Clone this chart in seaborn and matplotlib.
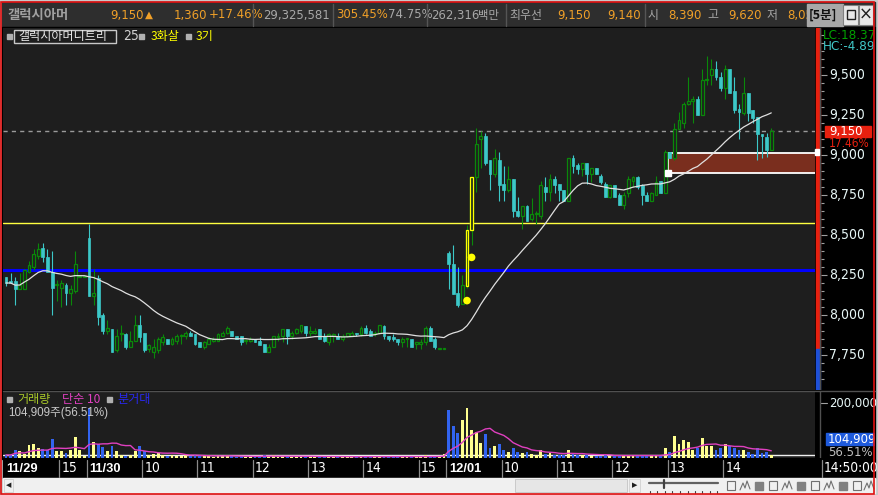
import numpy as np
import pandas as pd
import matplotlib
matplotlib.use("Agg")
import matplotlib.pyplot as plt
from matplotlib.patches import Rectangle
from matplotlib.transforms import Bbox
from matplotlib import font_manager
from matplotlib.font_manager import FontProperties
import seaborn as sns

sns.set_theme(style="dark")
KR = 'Noto Sans CJK KR'
plt.rcParams['font.family'] = ['Liberation Sans', KR, 'DejaVu Sans']
plt.rcParams['axes.unicode_minus'] = False

_narrow = None
for _f in font_manager.fontManager.ttflist:
    nm = _f.name
    if (('Narrow' in nm or 'Condensed' in nm or _f.stretch in ('condensed', 'semi-condensed'))
            and _f.style == 'normal' and _f.weight in (400, 'normal', 'regular')
            and ('Liberation' in nm or 'DejaVu' in nm)):
        if 'Mono' in nm or 'Serif' in nm:
            continue
        _narrow = _f.fname
        break


def NF(size):
    """font kwargs for narrow numeric/latin text"""
    if _narrow:
        return {'fontproperties': FontProperties(fname=_narrow, size=size)}
    return {'family': ['Liberation Sans'], 'fontsize': size * 0.84}


# ---------------- data (5-minute candles, 11/29 14:00 .. 12/01 14:50) ----------------
opens = [8240, 8210, 8210, 8160, 8160, 8270, 8300, 8370, 8420, 8360, 8270, 8190, 8170, 8190, 8140, 8150, 8240, 8240,
         8480, 8120, 8230, 8000, 7900, 7910, 7780, 7880, 7880, 7800, 7840, 7940, 7890, 7790, 7770, 7780, 7830, 7850,
         7820, 7840, 7870, 7870, 7890, 7880, 7830, 7800, 7820, 7840, 7840, 7870, 7890, 7900, 7870, 7870, 7840, 7840,
         7850, 7840, 7820, 7770, 7800, 7860, 7870, 7910, 7870, 7890, 7900, 7930, 7890, 7890, 7910, 7870, 7830, 7870,
         7870, 7850, 7870, 7870, 7890, 7880, 7920, 7900, 7880, 7890, 7930, 7870, 7860, 7850, 7830, 7850, 7850, 7820,
         7820, 7830, 7920, 7850, 7790, 7790,
         8390, 8320, 8140, 8070, 8180, 8530, 8860, 9100, 9120, 8970, 8880, 8970, 8820, 8780, 8850, 8650, 8620, 8680,
         8600, 8630, 8620, 8800, 8770, 8850, 8820, 8780, 8710, 8980, 8940, 8910, 8950, 8880, 8920, 8870, 8820, 8740,
         8810, 8750, 8690, 8760, 8840, 8860, 8810, 8750, 8710, 8750, 8840, 8760, 9020, 8980, 9160, 9200, 9320, 9340,
         9350, 9250, 9470, 9500, 9540, 9490, 9420, 9540, 9400, 9290, 9260, 9390, 9280, 9240, 9130, 9110, 9030]
highs = [8240, 8260, 8240, 8260, 8290, 8340, 8410, 8450, 8450, 8410, 8400, 8220, 8220, 8200, 8190, 8400, 8240, 8240,
         8570, 8290, 8250, 8010, 7970, 7910, 7910, 7940, 7890, 7900, 8000, 8000, 7890, 7820, 7850, 7860, 7880, 7850,
         7860, 7880, 7880, 7900, 7900, 7880, 7830, 7840, 7860, 7860, 7890, 7900, 7930, 7900, 7870, 7870, 7850, 7860,
         7850, 7860, 7820, 7820, 7870, 7890, 7910, 7910, 7900, 7920, 7940, 7930, 7930, 7920, 7910, 7890, 7890, 7890,
         7890, 7880, 7890, 7900, 7890, 7930, 7940, 7910, 7900, 7940, 7940, 7870, 7880, 7850, 7860, 7850, 7850, 7830,
         7850, 7930, 7930, 7860, 7790, 7790,
         8400, 8440, 8300, 8250, 8560, 8860, 9170, 9150, 9140, 8970, 9040, 9020, 8930, 8930, 8850, 8740, 8680, 8690,
         8730, 8650, 8840, 8860, 8880, 8870, 8820, 8780, 8980, 9000, 8950, 8950, 8950, 8920, 8920, 8880, 8830, 8810,
         8810, 8760, 8770, 8870, 8870, 8870, 8820, 8770, 8770, 8870, 8840, 9030, 9020, 9200, 9270, 9330, 9490, 9370,
         9370, 9540, 9620, 9600, 9590, 9520, 9560, 9540, 9490, 9320, 9490, 9390, 9280, 9240, 9130, 9140, 9170]
lows = [8180, 8200, 8060, 8160, 8160, 8260, 8280, 8350, 8330, 8270, 8000, 8090, 8050, 8060, 8060, 8140, 8240, 8240,
        8120, 8060, 7940, 7880, 7880, 7770, 7770, 7840, 7790, 7800, 7840, 7830, 7770, 7770, 7730, 7760, 7810, 7820,
        7810, 7820, 7820, 7850, 7870, 7810, 7800, 7790, 7820, 7830, 7840, 7870, 7880, 7870, 7850, 7810, 7820, 7830,
        7830, 7810, 7770, 7770, 7800, 7840, 7830, 7820, 7850, 7880, 7890, 7870, 7870, 7880, 7850, 7830, 7810, 7830,
        7850, 7840, 7860, 7870, 7870, 7870, 7880, 7870, 7870, 7880, 7850, 7840, 7840, 7810, 7800, 7800, 7800, 7790,
        7790, 7810, 7840, 7790, 7790, 7790,
        8160, 8130, 8050, 8070, 8170, 8440, 8770, 8920, 8940, 8780, 8860, 8710, 8710, 8770, 8610, 8610, 8540, 8590,
        8590, 8570, 8600, 8710, 8710, 8760, 8710, 8710, 8710, 8890, 8880, 8870, 8820, 8830, 8880, 8820, 8740, 8730,
        8740, 8690, 8660, 8740, 8800, 8790, 8690, 8710, 8710, 8750, 8760, 8760, 8980, 8970, 9160, 9170, 9310, 9200,
        9250, 9250, 9440, 9440, 9470, 9400, 9350, 9390, 9260, 9100, 9250, 9210, 9200, 8970, 8980, 8990, 9030]
closes = [8200, 8200, 8160, 8190, 8280, 8310, 8380, 8410, 8360, 8270, 8170, 8190, 8200, 8140, 8160, 8320, 8240, 8240,
          8120, 8140, 7990, 7900, 7920, 7770, 7870, 7890, 7800, 7840, 7940, 7860, 7780, 7810, 7800, 7850, 7860, 7820,
          7850, 7870, 7870, 7890, 7870, 7820, 7800, 7830, 7850, 7850, 7880, 7890, 7920, 7870, 7850, 7830, 7840, 7850,
          7830, 7810, 7770, 7800, 7870, 7870, 7910, 7870, 7890, 7910, 7940, 7890, 7900, 7900, 7850, 7840, 7880, 7880,
          7850, 7870, 7890, 7890, 7880, 7920, 7890, 7870, 7890, 7940, 7870, 7850, 7850, 7830, 7850, 7850, 7800, 7830,
          7830, 7920, 7840, 7800, 7790, 7790,
          8320, 8130, 8060, 8190, 8530, 8860, 9070, 9120, 8950, 8880, 8980, 8810, 8780, 8850, 8650, 8620, 8680, 8590,
          8630, 8630, 8810, 8770, 8850, 8810, 8780, 8710, 8980, 8930, 8910, 8950, 8880, 8920, 8880, 8830, 8740, 8810,
          8740, 8690, 8750, 8850, 8860, 8800, 8750, 8710, 8760, 8830, 8760, 9020, 8980, 9160, 9220, 9320, 9340, 9350,
          9250, 9470, 9470, 9540, 9490, 9420, 9540, 9390, 9280, 9270, 9390, 9260, 9230, 9130, 9120, 9030, 9150]
volume_k = [11, 11, 29, 25, 15, 47, 51, 36, 33, 29, 69, 25, 25, 18, 29, 76, 29, 7,
            182, 58, 51, 40, 25, 44, 25, 11, 7, 11, 25, 44, 25, 11,
            15, 18, 11, 7, 11, 7, 7, 11, 7, 11, 7, 7, 7, 4, 7, 7, 11, 7, 4, 7, 4, 4, 4, 7, 11, 7, 11, 4, 7, 7,
            4, 4, 7, 7, 4, 4, 7, 4, 7, 4, 4, 4, 4, 4, 4, 7, 7, 4, 4, 7, 7, 4, 4, 4, 4, 4, 7, 4, 4, 11, 7, 7, 4, 15,
            175, 116, 91, 138, 182, 102, 95, 55, 87, 36, 44, 51, 29, 22, 36, 22, 18, 22, 15, 11, 29, 15, 18, 11,
            11, 11, 29, 15, 11, 11, 11, 7, 7, 7, 11, 7, 7, 11, 11, 11, 7, 7, 11, 7, 7, 11, 7, 36, 22, 80, 51, 65,
            58, 29, 36, 73, 44, 44, 29, 36, 51, 44, 36, 29, 29, 22, 15, 36, 18, 22, 11]

tick_index = [0, 12, 18, 30, 42, 54, 66, 78, 90, 96, 108, 120, 132, 144, 156]
tick_text = ['11/29', '15', '11/30', '10', '11', '12', '13', '14', '15', '12/01', '10', '11', '12', '13', '14']
date_ticks = ['11/29', '11/30', '12/01']

price_ticks = [7750, 8000, 8250, 8500, 8750, 9000, 9250, 9500]
price_tick_labels = ['7,750', '8,000', '8,250', '8,500', '8,750', '9,000', '9,250', '9,500']
ma_period = 25
vol_ma_period = 10
prev_close = 7790
last_price = 9150
yellow_level = 8575
blue_level = 8280
box_low, box_high, box_start = 8890, 9015, 143
arrow_index = [100, 101]
arrow_price = [8090, 8360]
highlight_index = [100, 101]

n = len(closes)
assert len(opens) == n and len(highs) == n and len(lows) == n and len(volume_k) == n

df = pd.DataFrame({'i': np.arange(n), 'open': opens, 'high': highs, 'low': lows, 'close': closes,
                   'volume': np.array(volume_k) * 1000})
df['ma'] = df['close'].rolling(ma_period, min_periods=1).mean()
df['vma'] = df['volume'].rolling(vol_ma_period, min_periods=1).mean()
df['up'] = df['close'] >= df['open']

# ---------------- figure / pixel helpers ----------------
W, H = 879, 495
fig = plt.figure(figsize=(W / 100, H / 100), dpi=100)
fig.patch.set_facecolor('#c8c8c8')


def axpx(x0, y0, x1, y1):
    return fig.add_axes([x0 / W, 1 - y1 / H, (x1 - x0) / W, (y1 - y0) / H])


def T(x, y, s, **kw):
    kw.setdefault('va', 'center')
    return fig.text(x / W, 1 - y / H, s, **kw)


def R(x0, y0, x1, y1, **kw):
    fig.patches.append(Rectangle((x0 / W, 1 - y1 / H), (x1 - x0) / W, (y1 - y0) / H,
                                 transform=fig.transFigure, **kw))


def L(x0, y0, x1, y1, **kw):
    fig.lines.append(plt.Line2D([x0 / W, x1 / W], [1 - y0 / H, 1 - y1 / H], transform=fig.transFigure, **kw))


X0, STEP = 6.0, 4.61
XL = ((3 - X0) / STEP, (815 - X0) / STEP)
YL = (9500 - (390 - 75) * 6.25, 9500 - (28 - 75) * 6.25)

BG = '#1e1e1e'
GREEN = '#0a880a'
CYAN = '#3cc8c8'
ORANGE = '#f0a028'
GRAYT = '#a8a8a8'
AXT = '#e8f8f8'

# base frames (below axes)
R(2, 2, 875, 27, color='#2e2e2e', zorder=-5)
R(2, 27, 875, 459, color='#000000', zorder=-5)

# ---------------- main price axes ----------------
ax = axpx(3, 28, 815, 390)
ax.set_facecolor(BG)
ax.set_xlim(*XL)
ax.set_ylim(*YL)
for s in ax.spines.values():
    s.set_visible(False)
ax.set_xticks([]); ax.set_yticks([])
ax.grid(False)

ax.axhline(yellow_level, color='#ffff40', lw=1.0, zorder=2)
ax.axhline(blue_level, color='#0000ff', lw=2.2, zorder=2)
ax.axhline(last_price, color='#9a9a9a', lw=1.0, ls=(0, (3, 3)), zorder=2)

ax.add_patch(Rectangle((box_start + 0.5, box_low), XL[1] - box_start, box_high - box_low,
                       facecolor='#7a2e1e', edgecolor='white', lw=1.3, zorder=3))

up = df[df['up']]
dn = df[~df['up']]
BW = 0.62
ax.vlines(up['i'], up['low'], up['high'], color=GREEN, lw=0.8, zorder=4)
ax.vlines(dn['i'], dn['low'], dn['high'], color=CYAN, lw=0.8, zorder=4)
hu = np.maximum((up['close'] - up['open']).values, 6)
ax.bar(up['i'], hu, bottom=up['open'], width=BW, facecolor=BG, edgecolor=GREEN, lw=0.9, zorder=5)
hd = np.maximum((dn['open'] - dn['close']).values, 6)
ax.bar(dn['i'], hd, bottom=dn['close'], width=BW, color=CYAN, edgecolor=CYAN, lw=0.5, zorder=5)
hl = df.loc[highlight_index]
ax.bar(hl['i'], hl['close'] - hl['open'], bottom=hl['open'], width=BW, facecolor='none',
       edgecolor='#ffff00', lw=0.9, zorder=6)

sns.lineplot(data=df, x='i', y='ma', ax=ax, color='#e0e0e0', lw=0.9, zorder=7, legend=False)
sns.scatterplot(x=arrow_index, y=arrow_price, ax=ax, color='#ffff00', s=30, edgecolor='none', zorder=8, legend=False)
ax.set_xlim(*XL); ax.set_ylim(*YL)
ax.set_xlabel(''); ax.set_ylabel('')

# white markers at the box
R(665, 170, 671, 176, color='white', zorder=20)
R(815, 149, 819, 155, color='white', zorder=20)

# legend of main pane
R(7, 34, 12, 39, color='#b0b0b0', zorder=20)
R(14, 29.5, 116, 43, facecolor=BG, edgecolor='#c8c8c8', lw=1.0, zorder=20)
T(18, 36.5, '갤럭시아머니트리', color='#e8e8e8', fontsize=8.7, family=[KR], zorder=21)
T(123, 36.5, '25', color='#d0d0d0', zorder=21, **NF(10))
R(139, 34, 144, 39, color='#b0b0b0', zorder=20)
T(151, 36.5, '3화살', color='#ffff00', fontsize=8.7, family=[KR], zorder=21)
R(186, 34, 191, 39, color='#b0b0b0', zorder=20)
T(196, 36.5, '3기', color='#ffff00', fontsize=8.7, family=[KR], zorder=21)

# ---------------- right price axis ----------------
axr = axpx(815, 28, 875, 390)
axr.set_facecolor('#000000')
axr.set_ylim(*YL); axr.set_xlim(815, 875)
for s in axr.spines.values():
    s.set_visible(False)
axr.set_xticks([]); axr.set_yticks([]); axr.grid(False)
axr.add_patch(Rectangle((816, prev_close), 3.6, YL[1] - prev_close, color='#e8200f', zorder=2))
axr.add_patch(Rectangle((816, YL[0]), 3.6, prev_close - YL[0], color='#1e50d8', zorder=2))
axr.axvline(820.3, color='#505050', lw=1.0)
for p in range(7600, 9800, 50):
    ln = 6 if p in price_ticks else 3
    axr.plot([821, 821 + ln], [p, p], color='#a0a0a0', lw=0.8, solid_capstyle='butt')
for p, lab in zip(price_ticks, price_tick_labels):
    axr.text(829, p, lab, color=AXT, va='center', ha='left', **NF(10))
axr.text(823, YL[1] - 7.5 * 6.25, 'LC:18.37', color='#00a000', va='center', zorder=6, **NF(9.6))
axr.text(823, YL[1] - 19 * 6.25, 'HC:-4.89', color='#40c8c8', va='center', zorder=6, **NF(9.6))
axr.add_patch(Rectangle((825, last_price - 6 * 6.25), 46, 11 * 6.25, color='#e8200f', zorder=5))
axr.text(829, last_price, '9,150', color='white', va='center', zorder=6, **NF(9.4))
axr.text(829, last_price - 12.2 * 6.25, '17.46%', color='#e8200f', va='center', zorder=6, **NF(8.6))

# ---------------- volume pane ----------------
VTOP = 243600
axv = axpx(3, 391, 815, 458)
axv.set_facecolor(BG)
axv.set_xlim(*XL); axv.set_ylim(0, VTOP)
for s in axv.spines.values():
    s.set_visible(False)
axv.set_xticks([]); axv.set_yticks([]); axv.grid(False)
axv.axhline(VTOP * 3.5 / 67, color='#f0f0f0', lw=1.0, zorder=1)
vu = df[df['up']]; vd = df[~df['up']]
axv.bar(vu['i'], vu['volume'], width=BW, color='#ffff90', lw=0, zorder=2)
axv.bar(vd['i'], vd['volume'], width=BW, color='#3264f0', lw=0, zorder=2)
sns.lineplot(data=df, x='i', y='vma', ax=axv, color='#e040c0', lw=1.0, zorder=3, legend=False)
axv.set_xlim(*XL); axv.set_ylim(0, VTOP)
axv.set_xlabel(''); axv.set_ylabel('')

R(7, 397, 12, 402, color='#b0b0b0', zorder=20)
T(17, 400, '거래량', color='#a8c828', fontsize=8.7, family=[KR], zorder=21)
T(62, 400, '단순 10', color='#e040c0', fontsize=8.7, family=[KR], zorder=21)
R(107, 397, 112, 402, color='#b0b0b0', zorder=20)
T(117, 400, '분거대', color='#2828f0', fontsize=8.7, family=[KR], zorder=21)
T(8, 413, '104,909주(56.51%)', color='#c8c8c8', fontsize=8.4, family=['Liberation Sans', KR], zorder=21)

axvr = axpx(815, 391, 875, 458)
axvr.set_facecolor('#000000')
axvr.set_xlim(815, 875); axvr.set_ylim(458, 391)
for s in axvr.spines.values():
    s.set_visible(False)
axvr.set_xticks([]); axvr.set_yticks([]); axvr.grid(False)
axvr.axvline(820.3, color='#505050', lw=1.0)
axvr.plot([821, 827], [403, 403], color='#a0a0a0', lw=0.8)
axvr.text(829, 403, '200,000', color=AXT, va='center', **NF(9.4))
axvr.add_patch(Rectangle((826, 433), 48, 12, color='#1e5adc', zorder=5))
axvr.text(828, 439.5, '104,909', color='white', va='center', zorder=6, **NF(9.4))
axvr.text(828, 452, '56.51%', color='#c0c0c0', va='center', zorder=6, **NF(9.4))

L(3, 390.5, 875, 390.5, color='#505050', lw=1.0, zorder=20)

# ---------------- time axis ----------------
R(3, 459, 875, 478, color='#000000', zorder=2)
for ti, tt in zip(tick_index, tick_text):
    xp = X0 + STEP * (ti - 0.5)
    if ti > 0:
        L(xp, 460, xp, 477, color='#8a8a8a', lw=0.9, zorder=3)
    bold = tt in date_ticks
    if bold:
        T(xp + 2.5, 468.5, tt, color='white', fontweight='bold', family=['Liberation Sans'],
          fontsize=9.3, zorder=4)
    else:
        T(xp + 2.5, 468.5, tt, color='white', zorder=4, **NF(10))
L(822, 460, 822, 477, color='#8a8a8a', lw=0.9, zorder=3)
T(824, 468.5, '14:50:00', color='white', zorder=4, **NF(9.8))

# ---------------- scroll bar / toolbar ----------------
R(3, 478, 875, 493, color='#f0f0f0', zorder=2)
R(4, 479, 13, 492, facecolor='#f0f0f0', edgecolor='#d0d0d0', lw=0.6, zorder=3)
T(8.5, 485.5, '◀', color='#202020', fontsize=5, ha='center', family=['DejaVu Sans'], zorder=4)
R(515, 479, 627, 492, facecolor='#e6e6e6', edgecolor='#c4c4c4', lw=0.6, zorder=3)
R(629, 479, 640, 492, facecolor='#f0f0f0', edgecolor='#d0d0d0', lw=0.6, zorder=3)
T(634.5, 485.5, '▶', color='#202020', fontsize=5, ha='center', family=['DejaVu Sans'], zorder=4)
L(649, 483, 718, 483, color='#606060', lw=1.6, zorder=4)
L(664, 479.5, 664, 488, color='#404040', lw=1.6, zorder=5)
for k in range(10):
    xk = 650 + k * 7.5
    L(xk, 491, xk, 492.5, color='#404040', lw=0.8, zorder=4)
icx = [731, 745, 759, 773, 787, 801, 815, 829, 843, 857, 869]
for k, xc in enumerate(icx):
    if k % 3 == 0:
        R(xc - 4, 481, xc + 4, 490, facecolor='none', edgecolor='#707070', lw=0.8, zorder=4)
    elif k % 3 == 1:
        fig.lines.append(plt.Line2D([(xc - 5) / W, (xc - 2) / W, xc / W, (xc + 2) / W, (xc + 5) / W],
                                    [1 - 490 / H, 1 - 483 / H, 1 - 488 / H, 1 - 481 / H, 1 - 489 / H],
                                    transform=fig.transFigure, color='#707070', lw=0.8, zorder=4))
    else:
        R(xc - 4, 482, xc + 4, 490, color='#808080', zorder=4)

# ---------------- title bar ----------------
TS = 9.4
T(7, 15, '갤럭시아머', color='#a0a0a0', fontsize=9.6, fontweight='bold', family=[KR], zorder=5)
T(110, 15, '9,150', color=ORANGE, zorder=5, **NF(TS))
T(145, 14.5, '▲', color=ORANGE, fontsize=7.5, family=['DejaVu Sans'], zorder=5)
T(174, 15, '1,360', color=ORANGE, zorder=5, **NF(TS))
T(209, 15, '+17.46%', color=ORANGE, zorder=5, **NF(TS))
T(263, 15, '29,325,581', color=GRAYT, zorder=5, **NF(TS))
T(336, 15, '305.45%', color=ORANGE, zorder=5, **NF(TS))
T(388, 15, '74.75%', color=GRAYT, zorder=5, **NF(TS))
T(431, 15, '262,316', color=GRAYT, zorder=5, **NF(TS))
T(478, 15, '백만', color=GRAYT, fontsize=8.2, family=[KR], zorder=5)
T(509, 15, '최우선', color=GRAYT, fontsize=8.6, family=[KR], zorder=5)
T(557, 15, '9,150', color=ORANGE, zorder=5, **NF(TS))
T(607, 15, '9,140', color=ORANGE, zorder=5, **NF(TS))
T(648, 15, '시', color=GRAYT, fontsize=8.6, family=[KR], zorder=5)
T(668, 15, '8,390', color=ORANGE, zorder=5, **NF(TS))
T(707, 15, '고', color=GRAYT, fontsize=8.6, family=[KR], zorder=5)
T(728, 15, '9,620', color=ORANGE, zorder=5, **NF(TS))
T(767, 15, '저', color=GRAYT, fontsize=8.6, family=[KR], zorder=5)
t_low = T(787, 15, '8,050', color=ORANGE, zorder=5, **NF(TS))
t_low.set_clip_box(Bbox.from_extents(0, 0, 807, H))
t_low.set_clip_on(True)
for xs in [253, 333, 427, 506, 645]:
    L(xs, 4, xs, 26, color='#555555', lw=1.0, zorder=6)
R(807, 4, 843, 26, color='#a8a8a8', zorder=7)
T(809, 15, '[5분]', color='#101010', fontsize=9, fontweight='bold', family=[KR], zorder=8)
R(843, 5, 858, 25, facecolor='#e8e8e8', edgecolor='#808080', lw=0.8, zorder=7)
R(847, 10, 855, 19, facecolor='none', edgecolor='#202020', lw=1.0, zorder=8)
R(859, 5, 873, 25, facecolor='#e8e8e8', edgecolor='#808080', lw=0.8, zorder=7)
T(866, 15, '×', color='#202020', fontsize=12, ha='center', family=['DejaVu Sans'], zorder=8)

# red window frame
R(1, 1.5, 874.5, 493.5, facecolor='none', edgecolor='#e01010', lw=1.2, zorder=30)

fig.savefig('out.png', dpi=100, facecolor=fig.get_facecolor())
